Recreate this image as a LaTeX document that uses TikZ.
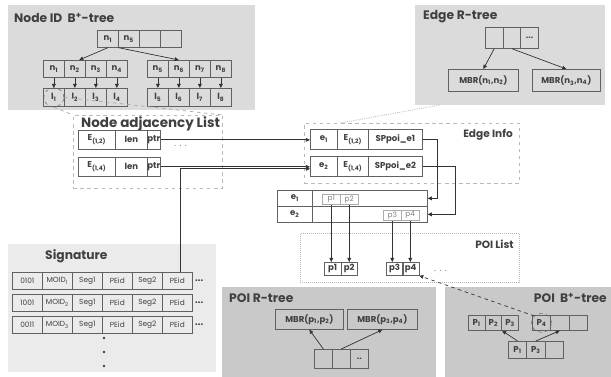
\documentclass[tikz,border=0pt]{standalone}
\usepackage{fontspec}
\setmainfont{Poppins}
\usetikzlibrary{arrows.meta, positioning, calc, shapes.geometric}

\definecolor{panelgray}{gray}{0.86}
\definecolor{siggray}{gray}{0.92}
\definecolor{poigray}{gray}{0.79}
\definecolor{inkgray}{gray}{0.25}
\definecolor{boxline}{gray}{0.38}
\newcommand{\px}{0.03cm}
\newcommand{\sub}[1]{\textsubscript{#1}}
\newcommand{\moredots}{...}
\newcommand{\twodots}{..}

\tikzset{
  cell/.style={draw=boxline, line width=0.6pt, inner sep=0pt, anchor=north west,
    minimum width=21*\px, minimum height=17*\px, text=inkgray,
    font=\fontsize{7.3}{8}\selectfont\bfseries},
  sigcell/.style={cell, minimum width=30*\px, font=\fontsize{6.3}{7}\selectfont},
  pcell/.style={draw=gray!65, line width=0.5pt, inner sep=0pt, anchor=north west,
    minimum width=18*\px, minimum height=10*\px, text=gray,
    font=\fontsize{6.3}{7}\selectfont},
  paneltitle/.style={anchor=west, inner sep=0pt, text=inkgray,
    font=\fontsize{10.5}{12}\selectfont\bfseries},
  infotext/.style={anchor=west, inner sep=0pt, text=inkgray,
    font=\fontsize{9}{10}\selectfont\bfseries},
  zoomline/.style={draw=gray!70, dashed, line width=0.6pt},
  dotbox/.style={draw=gray!55, densely dotted, line width=0.7pt, inner sep=0pt,
    anchor=north west},
  arr/.style={-{Triangle[length=3.5pt,width=3.2pt]}, draw=black!80, line width=0.6pt},
  ring/.style={draw=boxline, dashed, ellipse, inner sep=0pt,
    minimum width=20*\px, minimum height=19*\px},
}

\begin{document}
\begin{tikzpicture}[x=\px, y=-\px]
  \useasboundingbox (0,0) rectangle (611,377);

  % Node ID B+-tree
  \fill[panelgray] (8,5) rectangle (255,110);
  \node[paneltitle] (nidtitle) at (14,18) {Node ID\ \ B\textsuperscript{+}-tree};
  \foreach \t [count=\i] in {n\sub1, n\sub5, {}, {}}
    \node[cell] (r\i) at ({97+(\i-1)*21},30) {\t};
  \foreach \i in {1,2,3,4} {
    \pgfmathtruncatemacro\j{\i+4}
    \node[cell] (a\i) at ({43+(\i-1)*21},60) {n\sub{\i}};
    \node[cell] (b\i) at ({147+(\i-1)*21},60) {n\sub{\j}};
    \node[cell, minimum height=18*\px] (c\i) at ({43+(\i-1)*21},88) {l\sub{\i}};
    \node[cell, minimum height=18*\px] (d\i) at ({147+(\i-1)*21},88) {l\sub{\j}};
    \draw[arr] (a\i) -- (c\i);
    \draw[arr] (b\i) -- (d\i);
  }
  \draw[arr] (r1.south) -- ($(a2.north)!.4!(a2.north east)$);
  \draw[arr] (r1.south east) -- (b2.north);
  \node[ring] (l1ring) at (c1) {};

  % Node adjacency list
  \node[dotbox, dashed, minimum width=149*\px, minimum height=73*\px] (adjbox) at (73,115) {};
  \draw[zoomline] (l1ring.south) -- (adjbox.north west);
  \draw[zoomline] (l1ring.east) -- (adjbox.north east);
  \node[paneltitle, font=\fontsize{11.5}{13}\selectfont\bfseries] (adjtitle) at (81,124) {Node adjacency List};
  \foreach \e/\r [count=\i] in {{(1,2)}/130, {(1,4)}/157} {
    \node[cell, minimum width=37*\px, minimum height=19*\px] (adjE\i) at (78,\r) {E\sub{\e}};
    \node[cell, minimum width=32*\px, minimum height=19*\px] (adjL\i) at (115,\r) {len};
    \node[cell, minimum width=13*\px, minimum height=19*\px] (adjP\i) at (147,\r) {ptr};
  }
  \node[infotext, text=gray, font=\fontsize{8}{9}\selectfont] (adjdots) at (174,146) {. . .};

  % Edge info
  \node[dotbox, dashed, minimum width=215*\px, minimum height=60*\px] (edgebox) at (304,123) {};
  \node[infotext, anchor=east] (edgetitle) at (513,135) {Edge Info};
  \foreach \e/\r [count=\i] in {{(1,2)}/129, {(1,4)}/156} {
    \node[cell, minimum width=27*\px, minimum height=20*\px] (ei\i) at (310,\r) {e\sub{\i}};
    \node[cell, minimum width=31*\px, minimum height=20*\px] (ee\i) at (337,\r) {E\sub{\e}};
    \node[cell, minimum width=54*\px, minimum height=20*\px] (es\i) at (368,\r) {SPpoi\_e\i};
  }
  \draw[arr] (adjP1.east) -- (adjP1.east -| ei1.west);
  \draw[arr] (adjP2.east) -- (adjP2.east -| ei2.west);

  % POI pointer table
  \node[cell, minimum width=35*\px, minimum height=16*\px] (t1l) at (277,190) {e\sub1};
  \node[cell, minimum width=115*\px, minimum height=16*\px] (t1r) at (312,190) {};
  \node[cell, minimum width=35*\px, minimum height=16*\px] (t2l) at (277,206) {e\sub2};
  \node[cell, minimum width=115*\px, minimum height=16*\px] (t2r) at (312,206) {};
  \node[pcell] (tp1) at (322,194) {p1};
  \node[pcell] (tp2) at (340,194) {p2};
  \node[pcell] (tp3) at (383,210) {p3};
  \node[pcell] (tp4) at (401,210) {p4};
  \draw[arr] (es1.east) -- ++(15,0) |- (t1r.east);
  \draw[arr] (es2.east) -- ++(33,0) |- (t2r.east);

  % POI list
  \node[dotbox, minimum width=219*\px, minimum height=49*\px] (poilist) at (300,233) {};
  \node[infotext, anchor=east] (poititle) at (514,244) {POI List};
  \foreach \x [count=\i] in {324,340.5,386,402}
    \node[cell, minimum width=16.5*\px, minimum height=13*\px] (q\i) at (\x,262) {p\i};
  \node[infotext, text=gray, font=\fontsize{8}{9}\selectfont] (poidots) at (434,271) {. . .};
  \foreach \i in {1,2,3,4}
    \draw[arr] (tp\i.south) -- (tp\i.south |- q\i.north);

  % Signature
  \fill[siggray] (8,244) rectangle (216,372);
  \node[paneltitle] (sigtitle) at (45,256) {Signature};
  \foreach \code/\m [count=\r] in {0101/1, 1001/2, 0011/3} {
    \pgfmathsetmacro\yy{272+(\r-1)*22}
    \foreach \t [count=\c] in {\code, MOID\sub{\m}, Seg1, PEid, Seg2, PEid}
      \node[sigcell] (sig\r\c) at ({12+(\c-1)*30},\yy) {\t};
    \node[infotext, font=\fontsize{8}{9}\selectfont\bfseries] (sigdots\r) at (195,{\yy+9}) {\moredots};
  }
  \foreach \yy in {338,352,366}
    \fill[inkgray] (104,\yy) circle (1.1pt);
  \draw[arr] ($(sig16.north)+(3,0)$) |- ($(ei2.west)+(0,2.5)$);

  % POI R-tree
  \fill[poigray] (222,287) rectangle (436,377);
  \node[paneltitle] (prtitle) at (229,298) {POI R-tree};
  \node[cell, minimum width=68*\px, minimum height=20*\px] (m1) at (275,309) {MBR(p\sub1,p\sub2)};
  \node[cell, minimum width=70*\px, minimum height=20*\px] (m2) at (347,309) {MBR(p\sub3,p\sub4)};
  \foreach \t [count=\i] in {{}, {}, \twodots}
    \node[cell, minimum width=18*\px, minimum height=19*\px] (u\i) at ({314+(\i-1)*18},349) {\t};
  \draw[arr] (u1.north) -- (m1.south);
  \draw[arr] (u2.north) -- (m2.south);

  % POI B+-tree
  \fill[poigray] (445,287) rectangle (611,377);
  \node[paneltitle, anchor=east] (pbtitle) at (607,298) {POI\ \ B\textsuperscript{+}-tree};
  \foreach \t [count=\i] in {P\sub1, P\sub2, P\sub3}
    \node[cell, minimum width=16.7*\px, minimum height=15*\px] (v\i) at ({468+(\i-1)*16.7},315) {\t};
  \foreach \t [count=\i] in {P\sub4, {}, {}}
    \node[cell, minimum width=18.3*\px, minimum height=15*\px] (w\i) at ({532+(\i-1)*18.3},315) {\t};
  \foreach \t [count=\i] in {P\sub1, P\sub3, {}}
    \node[cell, minimum width=18.3*\px, minimum height=17*\px] (z\i) at ({508+(\i-1)*18.3},341) {\t};
  \draw[arr] (z1.north) -- (v2.south east);
  \draw[arr] (z2.north) -- (w2.south);
  \node[ring] (p4ring) at (w1) {};
  \draw[arr, dashed] (p4ring.north west) -- (q4.south east);

  % Edge R-tree
  \fill[panelgray] (415,5) rectangle (605,105);
  \node[paneltitle] (ertitle) at (423,17) {Edge R-tree};
  \foreach \t [count=\i] in {{}, {}, \moredots}
    \node[cell, minimum width=17.7*\px, minimum height=21*\px] (k\i) at ({485+(\i-1)*17.7},27) {\t};
  \node[cell, minimum width=70*\px, minimum height=22*\px] (g1) at (448,69) {MBR(n\sub1,n\sub2)};
  \node[cell, minimum width=68*\px, minimum height=22*\px] (g2) at (532,69) {MBR(n\sub3,n\sub4)};
  \draw[arr] (k1.south) -- (g1.north);
  \draw[arr] (k2.south) -- (g2.north);
  \coordinate (erbottom) at (440,105);
  \draw[zoomline, densely dotted] ($(edgebox.north west)+(36,0)$) -- (erbottom);
\end{tikzpicture}
\end{document}
